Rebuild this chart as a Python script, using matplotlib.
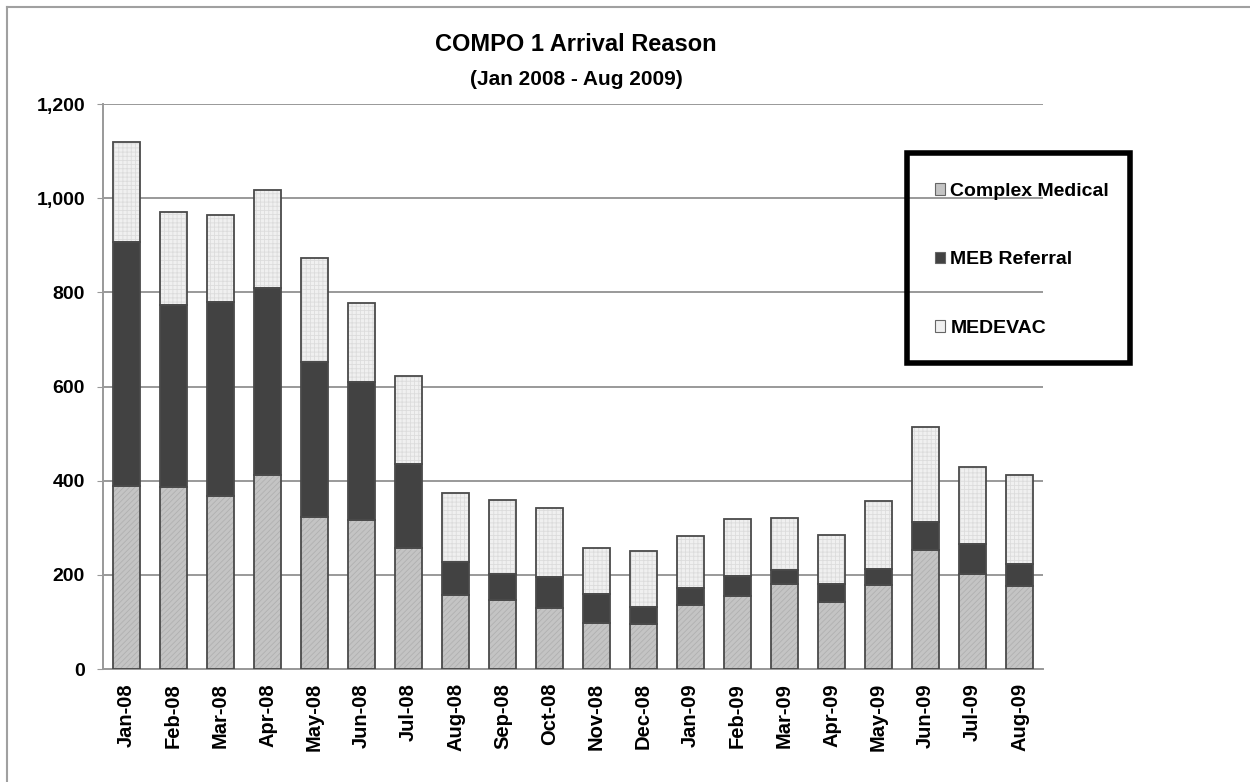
import matplotlib
matplotlib.use('Agg')
import matplotlib.pyplot as plt
from matplotlib.patches import Patch, Rectangle
from matplotlib.lines import Line2D
from matplotlib.ticker import FuncFormatter
import numpy as np

plt.rcParams['font.family'] = ['Liberation Sans', 'DejaVu Sans']
plt.rcParams['font.weight'] = 'bold'
plt.rcParams['hatch.linewidth'] = 0.6

# monthly arrivals by reason
months = ['Jan-08', 'Feb-08', 'Mar-08', 'Apr-08', 'May-08', 'Jun-08', 'Jul-08',
          'Aug-08', 'Sep-08', 'Oct-08', 'Nov-08', 'Dec-08', 'Jan-09', 'Feb-09',
          'Mar-09', 'Apr-09', 'May-09', 'Jun-09', 'Jul-09', 'Aug-09']
complex_medical = [389, 387, 367, 413, 322, 317, 256, 157, 147, 130,
                   98, 96, 135, 154, 180, 142, 179, 253, 202, 177]
meb_referral = [518, 386, 412, 397, 330, 293, 180, 71, 54, 65,
                61, 36, 38, 44, 30, 38, 33, 59, 64, 45]
medevac = [213, 197, 186, 207, 220, 167, 186, 146, 159, 146,
           99, 119, 110, 121, 111, 105, 145, 201, 164, 189]

series = ['Complex Medical', 'MEB Referral', 'MEDEVAC']
fills = ['#c4c4c4', '#424242', '#f0f0f0']
hatch_cols = ['#b0b0b0', '#424242', '#dcdcdc']
hatches = ['//////', None, '++++']

fig = plt.figure(figsize=(12.5, 7.82), dpi=100)
ax = fig.add_axes([0.0824, 0.1445, 0.752, 0.7225])

x = np.arange(len(months))
w = 0.575
bottom = np.zeros(len(months))
for vals, fc, hc, h in zip([complex_medical, meb_referral, medevac], fills, hatch_cols, hatches):
    vals = np.array(vals)
    # texture layer, then outline on top
    ax.bar(x, vals, w, bottom=bottom, color=fc, edgecolor=hc, hatch=h, linewidth=0, zorder=2)
    ax.bar(x, vals, w, bottom=bottom, fill=False, edgecolor='#4a4a4a', linewidth=1.3, zorder=3)
    bottom += vals

ax.set_xlim(-0.5, len(months) - 0.5)
ax.set_ylim(0, 1200)
ax.set_yticks(np.arange(0, 1201, 200))
ax.yaxis.set_major_formatter(FuncFormatter(lambda v, p: f'{int(v):,}'))
ax.set_xticks(x)
ax.set_xticklabels(months, rotation=90, fontsize=14.5, fontweight='bold')
ax.tick_params(axis='y', labelsize=14, length=4, color='#999999', pad=9)
ax.tick_params(axis='x', length=0, pad=10)
for lab in ax.get_yticklabels():
    lab.set_fontweight('bold')

ax.grid(axis='y', color='#999999', linewidth=1.4, zorder=0)
ax.set_axisbelow(True)
for s in ['top', 'right']:
    ax.spines[s].set_visible(False)
for s in ['left', 'bottom']:
    ax.spines[s].set_color('#999999')
    ax.spines[s].set_linewidth(1.4)

fig.text(0.461, 0.943, 'COMPO 1 Arrival Reason', ha='center', va='center',
         fontsize=17, fontweight='bold')
fig.text(0.461, 0.898, '(Jan 2008 - Aug 2009)', ha='center', va='center',
         fontsize=15, fontweight='bold')

# legend inside a heavy black frame
fig.patches.append(Rectangle((907 / 1250, 1 - 363 / 782), 223 / 1250, 210 / 782,
                             transform=fig.transFigure, fill=False,
                             edgecolor='black', linewidth=4, zorder=5))
handles = [Patch(facecolor=fc, edgecolor='#666666', linewidth=0.8) for fc in fills]
leg = fig.legend(handles, series, loc='upper left',
                 bbox_to_anchor=(925 / 1250, 1 - 173 / 782),
                 frameon=False, fontsize=14, labelspacing=2.65,
                 handlelength=0.55, handleheight=0.55, handletextpad=0.25,
                 borderpad=0)
for t in leg.get_texts():
    t.set_fontweight('bold')

# outer chart border
fig.add_artist(Line2D([7 / 1250, 7 / 1250], [0, 1 - 7 / 782], transform=fig.transFigure,
                      color='#a0a0a0', linewidth=1.5))
fig.add_artist(Line2D([7 / 1250, 1], [1 - 7 / 782, 1 - 7 / 782], transform=fig.transFigure,
                      color='#a0a0a0', linewidth=1.5))

fig.savefig('out.png', dpi=100)
